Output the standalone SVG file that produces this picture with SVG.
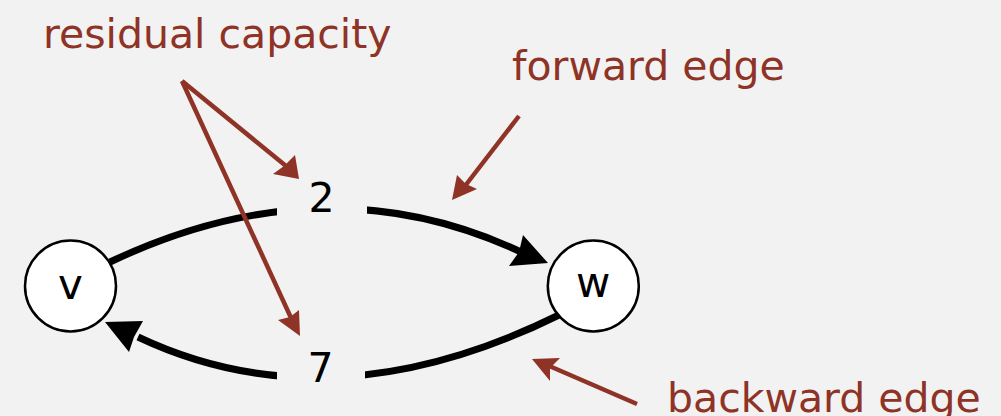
<svg xmlns="http://www.w3.org/2000/svg" width="1001" height="416" viewBox="0 0 1001 416">
<style>
.bg{fill:#f2f2f2}
.edge{fill:none;stroke:#000;stroke-width:7}
.head{fill:#000}
.node circle{fill:#fff;stroke:#000;stroke-width:2.5}
.lbl{font-family:"DejaVu Sans",sans-serif;font-size:42px;fill:#000;text-anchor:middle}
.num{font-family:"DejaVu Sans",sans-serif;font-size:41px;fill:#000;text-anchor:middle}
.note{font-family:"DejaVu Sans",sans-serif;font-size:41px;fill:#8e3326}
.ann{fill:none;stroke:#8e3326;stroke-width:4.5}
.annhead{fill:#8e3326}
</style>
<rect class="bg" x="0" y="0" width="1001" height="416"/>
<g id="connectors">
  <path class="edge" d="M110,262 Q325,160 521,252"/>
  <polygon class="head" points="548,263 509,266 519,252 523,235"/>
  <path class="edge" d="M559,315 Q330,428 138,337"/>
  <polygon class="head" points="105,322 143,321 134,337 129,352"/>
  <rect class="bg" x="277" y="188" width="90" height="44"/>
  <rect class="bg" x="277" y="352" width="88" height="46"/>
</g>
<g id="node-v" class="node">
  <circle cx="70.5" cy="286" r="45.5"/>
  <text class="lbl" x="70.5" y="299">v</text>
</g>
<g id="node-w" class="node">
  <circle cx="593.3" cy="286" r="45.5"/>
  <text class="lbl" x="593.3" y="297">w</text>
</g>
<g id="label-2"><text class="num" x="321.5" y="211.5">2</text></g>
<g id="label-7"><text class="num" x="320.5" y="381.5">7</text></g>
<g id="annotations">
  <text class="note" x="43" y="48">residual capacity</text>
  <text class="note" x="512" y="80">forward edge</text>
  <text class="note" x="667" y="411.5">backward edge</text>
  <path class="ann" d="M182,81 L286,166"/>
  <polygon class="annhead" points="299,179 273,174 284,166 295,155"/>
  <path class="ann" d="M182,81 L292,320"/>
  <polygon class="annhead" points="300,336 278,320 290,317 299,310"/>
  <path class="ann" d="M519,116 L465,186"/>
  <polygon class="annhead" points="452,200 457,175 466,184 477,189"/>
  <path class="ann" d="M637,404 L547,365"/>
  <polygon class="annhead" points="532,359 560,358 550,368 550,381"/>
</g>
</svg>
